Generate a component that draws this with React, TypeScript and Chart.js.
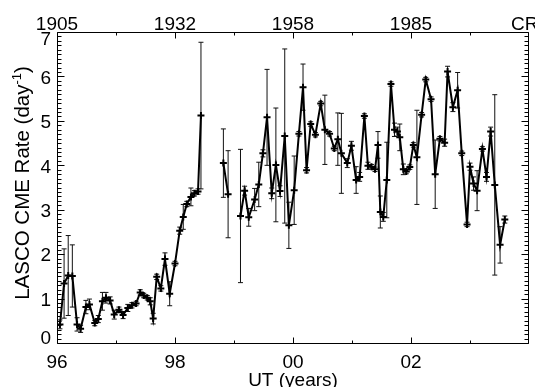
import React, { useEffect, useRef } from 'react';
import { Chart, registerables } from 'chart.js';

Chart.register(...registerables);

// Decimal year of each Carrington-rotation average (null = data gap)
const years: number[] = [
  1996.05, 1996.12, 1996.19, 1996.26, 1996.34, 1996.40, 1996.49, 1996.55, 1996.64, 1996.70,
  1996.77, 1996.83, 1996.90, 1996.97, 1997.05, 1997.12, 1997.20, 1997.27, 1997.34, 1997.41,
  1997.47, 1997.53, 1997.58, 1997.63, 1997.69, 1997.76, 1997.83, 1997.91, 1998.00, 1998.08,
  1998.14, 1998.20, 1998.27, 1998.33, 1998.39, 1998.44,
  1998.63,
  1998.82, 1998.90,
  1999.00,
  1999.11, 1999.18, 1999.25, 1999.35, 1999.42, 1999.49, 1999.56, 1999.64, 1999.71, 1999.78,
  1999.86, 1999.93, 2000.02, 2000.10, 2000.17, 2000.23, 2000.30, 2000.38, 2000.47, 2000.54,
  2000.62, 2000.70, 2000.76, 2000.82, 2000.92, 2000.99, 2001.07, 2001.13, 2001.21, 2001.27,
  2001.33, 2001.39, 2001.44, 2001.48, 2001.53, 2001.59, 2001.66, 2001.72, 2001.77, 2001.81,
  2001.87, 2001.92, 2001.98, 2002.04, 2002.10, 2002.18, 2002.25, 2002.34, 2002.41, 2002.49,
  2002.57, 2002.62, 2002.71, 2002.79, 2002.86, 2002.95, 2003.00, 2003.06, 2003.12, 2003.21,
  2003.28, 2003.35, 2003.42, 2003.51, 2003.59,
];

// LASCO CME rate (per day)
const rates: (number | null)[] = [
  0.43, 1.35, 1.53, 1.52, 0.43, 0.33, 0.82, 0.88, 0.46, 0.55,
  0.95, 1.03, 0.97, 0.65, 0.76, 0.64, 0.80, 0.86, 0.90, 1.15,
  1.08, 1.03, 0.95, 0.56, 1.50, 1.24, 1.90, 1.12, 1.80, 2.54,
  2.85, 3.14, 3.30, 3.38, 3.42, 5.13,
  null,
  4.06, 3.36,
  null,
  2.87, 3.44, 2.84, 3.24, 3.58, 4.28, 5.09, 3.38, 4.02, 3.43,
  4.67, 2.66, 3.45, 4.72, 5.77, 3.90, 4.94, 4.70, 5.40, 4.81,
  4.72, 4.39, 4.60, 4.28, 4.06, 4.45, 3.68, 3.75, 5.12, 4.00,
  3.98, 3.92, 4.47, 2.96, 2.85, 3.68, 5.84, 4.81, 4.77, 4.64,
  3.92, 3.87, 3.97, 4.47, 4.19, 5.15, 5.94, 5.50, 3.81, 4.61,
  4.52, 6.12, 5.32, 5.70, 4.28, 2.68, 3.98, 3.60, 3.44, 4.38,
  3.75, 4.77, 3.57, 2.22, 2.79,
];

// Error bar half-length (per day)
const errors: (number | null)[] = [
  0.10, 0.78, 0.90, 0.70, 0.15, 0.08, 0.15, 0.12, 0.06, 0.08,
  0.20, 0.12, 0.08, 0.10, 0.06, 0.08, 0.08, 0.06, 0.05, 0.06,
  0.05, 0.05, 0.08, 0.12, 0.06, 0.06, 0.14, 0.27, 0.05, 0.08,
  0.28, 0.06, 0.20, 0.06, 0.06, 1.65,
  null,
  0.77, 0.98,
  null,
  1.50, 0.10, 0.20, 0.25, 0.50, 0.08, 1.08, 0.12, 1.28, 0.12,
  1.96, 0.52, 0.77, 0.05, 0.52, 0.06, 0.05, 0.05, 0.05, 0.78,
  0.05, 0.05, 0.59, 0.90, 0.10, 0.10, 0.30, 0.10, 0.05, 0.08,
  0.05, 0.05, 0.30, 0.36, 0.10, 0.85, 0.05, 0.15, 0.10, 0.30,
  0.12, 0.05, 0.05, 0.05, 1.06, 0.05, 0.05, 0.05, 0.77, 0.05,
  0.08, 0.12, 0.10, 0.40, 0.05, 0.05, 0.08, 0.15, 0.45, 0.05,
  0.10, 0.10, 2.03, 0.41, 0.08,
];

const xMin = 1996;
const xMax = 2004;
const yMin = 0;
const yMax = 7;
const bottomTickYears = [1996, 1998, 2000, 2002];
const bottomTickLabels = ['96', '98', '00', '02'];
const topTickLabels = ['1905', '1932', '1958', '1985'];
const topEndLabel = 'CR';
const yTickValues = [0, 1, 2, 3, 4, 5, 6, 7];
const xTitle = 'UT (years)';
const yTitleMain = 'LASCO CME Rate (day';
const yTitleSup = '-1';
const yTitleEnd = ')';

const FAMILY = '"Liberation Sans", Arial, Helvetica, sans-serif';
const FONT = `19px ${FAMILY}`;
const TITLE_FONT = `20.5px ${FAMILY}`;
const SUP_FONT = `13px ${FAMILY}`;

const framePlugin = {
  id: 'idlFrame',
  beforeDatasetsDraw(chart: any) {
    const { ctx, scales } = chart;
    const xs = scales.x;
    const ys = scales.y;
    ctx.save();
    ctx.strokeStyle = '#111';
    ctx.lineWidth = 1;
    for (let i = 0; i < years.length; i++) {
      const v = rates[i];
      const e = errors[i];
      if (v == null || e == null) continue;
      const px = xs.getPixelForValue(years[i]);
      const t = ys.getPixelForValue(v + e);
      const b = ys.getPixelForValue(Math.max(yMin, v - e));
      ctx.beginPath();
      ctx.moveTo(px, t);
      ctx.lineTo(px, b);
      ctx.moveTo(px - 2.5, t);
      ctx.lineTo(px + 2.5, t);
      ctx.moveTo(px - 2.5, b);
      ctx.lineTo(px + 2.5, b);
      ctx.stroke();
    }
    ctx.restore();
  },
  afterDraw(chart: any) {
    const { ctx, chartArea, scales } = chart;
    const xs = scales.x;
    const ys = scales.y;
    const L = Math.round(chartArea.left) + 0.5;
    const R = Math.round(chartArea.right) - 0.5;
    const T = Math.floor(chartArea.top) + 0.5;
    const B = Math.floor(chartArea.bottom) + 0.5;
    ctx.save();
    ctx.strokeStyle = '#000';
    ctx.lineWidth = 1;
    ctx.beginPath();
    ctx.rect(L, T, R - L, B - T);
    ctx.stroke();

    // x ticks (bottom and top), inward
    ctx.beginPath();
    for (let yr = xMin; yr <= xMax; yr++) {
      const px = Math.min(R, Math.round(xs.getPixelForValue(yr)) + 0.5);
      const len = yr % 2 === 0 ? 6 : 3;
      ctx.moveTo(px, B);
      ctx.lineTo(px, B - len);
      ctx.moveTo(px, T);
      ctx.lineTo(px, T + len);
    }
    // y ticks (left and right), inward
    for (let k = yMin * 10; k <= yMax * 10; k++) {
      const v = k / 10;
      const py = Math.floor(ys.getPixelForValue(v)) + 0.5;
      const len = k % 10 === 0 ? 7 : 4;
      ctx.moveTo(L, py);
      ctx.lineTo(L + len, py);
      ctx.moveTo(R, py);
      ctx.lineTo(R - len, py);
    }
    ctx.stroke();

    ctx.fillStyle = '#000';
    ctx.font = FONT;
    ctx.textBaseline = 'alphabetic';

    // bottom labels
    ctx.textAlign = 'center';
    bottomTickYears.forEach((yr, i) => {
      ctx.fillText(bottomTickLabels[i], xs.getPixelForValue(yr), 368);
    });
    // top labels
    bottomTickYears.forEach((yr, i) => {
      ctx.fillText(topTickLabels[i], xs.getPixelForValue(yr), 30);
    });
    ctx.textAlign = 'left';
    ctx.fillText(topEndLabel, 511, 30);

    // x title
    ctx.textAlign = 'center';
    ctx.fillText(xTitle, (chartArea.left + chartArea.right) / 2, 386);

    // y labels
    ctx.textAlign = 'right';
    yTickValues.forEach((v) => {
      let cy = ys.getPixelForValue(v);
      if (v === yMin) cy -= 6;
      if (v === yMax) cy += 6;
      ctx.fillText(String(v), 51, cy + 6.8);
    });

    // y title (rotated)
    ctx.save();
    ctx.translate(29, (chartArea.top + chartArea.bottom) / 2 - 5);
    ctx.rotate(-Math.PI / 2);
    ctx.textAlign = 'left';
    ctx.font = TITLE_FONT;
    const w1 = ctx.measureText(yTitleMain).width;
    const w3 = ctx.measureText(yTitleEnd).width;
    ctx.font = SUP_FONT;
    const w2 = ctx.measureText(yTitleSup).width;
    let x0 = -(w1 + w2 + w3) / 2;
    ctx.font = TITLE_FONT;
    ctx.fillText(yTitleMain, x0, 0);
    x0 += w1;
    ctx.font = SUP_FONT;
    ctx.fillText(yTitleSup, x0, -8);
    x0 += w2;
    ctx.font = TITLE_FONT;
    ctx.fillText(yTitleEnd, x0, 0);
    ctx.restore();

    ctx.restore();
  },
};

export default function App() {
  const canvasRef = useRef<HTMLCanvasElement | null>(null);

  useEffect(() => {
    const canvas = canvasRef.current;
    if (!canvas) return;
    const points = years.map((yr, i) => ({ x: yr, y: rates[i] }));
    const chart = new Chart(canvas, {
      type: 'line',
      data: {
        datasets: [
          {
            data: points as any,
            borderColor: '#000',
            borderWidth: 2,
            pointStyle: 'cross',
            pointRadius: 3.5,
            pointBorderWidth: 2,
            pointBorderColor: '#000',
            pointBackgroundColor: '#000',
            spanGaps: false,
            tension: 0,
            fill: false,
          },
        ],
      },
      options: {
        animation: false,
        responsive: false,
        devicePixelRatio: 1,
        layout: { padding: { left: 57, right: 0, top: 32.5, bottom: 43.5 } },
        plugins: { legend: { display: false }, tooltip: { enabled: false } },
        scales: {
          x: { type: 'linear', min: xMin, max: xMax, display: false },
          y: { type: 'linear', min: yMin, max: yMax, display: false },
        },
      },
      plugins: [framePlugin],
    });
    return () => chart.destroy();
  }, []);

  return (
    <div style={{ position: 'absolute', left: 0, top: 0, width: 535, height: 387, background: '#fff' }}>
      <canvas ref={canvasRef} width={535} height={387} style={{ display: 'block' }} />
    </div>
  );
}
